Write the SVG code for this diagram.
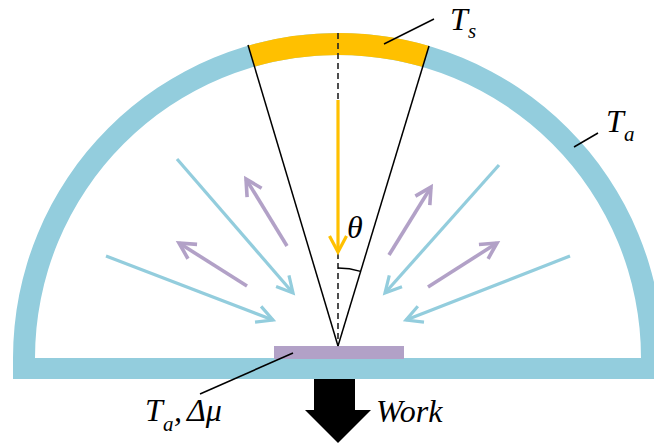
<svg xmlns="http://www.w3.org/2000/svg" width="654" height="443" viewBox="0 0 654 443">
<style>
.lbl{font-family:"Liberation Serif","DejaVu Serif",serif;font-style:italic;font-size:32px;fill:#000}
.sub{font-family:"Liberation Serif","DejaVu Serif",serif;font-style:italic;font-size:21px;fill:#000}
.lead{stroke:#000;stroke-width:1.5;fill:none}
.blue{stroke:#93CDDD;stroke-width:3.2;fill:none;marker-end:url(#mb)}
.purp{stroke:#B2A1C7;stroke-width:3.6;fill:none;marker-end:url(#mp)}
</style>
<defs>
<marker id="mb" markerUnits="userSpaceOnUse" viewBox="-20 -15 30 30" markerWidth="30" markerHeight="30" refX="0" refY="0" orient="auto" overflow="visible">
<path d="M-16,-8.5 L0,0 L-16,8.5" fill="none" stroke="#93CDDD" stroke-width="3.2"/>
</marker>
<marker id="mp" markerUnits="userSpaceOnUse" viewBox="-20 -15 30 30" markerWidth="30" markerHeight="30" refX="0" refY="0" orient="auto" overflow="visible">
<path d="M-16,-8.5 L0,0 L-16,8.5" fill="none" stroke="#B2A1C7" stroke-width="3.6"/>
</marker>
<marker id="my" markerUnits="userSpaceOnUse" viewBox="-20 -15 30 30" markerWidth="30" markerHeight="30" refX="0" refY="0" orient="auto" overflow="visible">
<path d="M-16,-8.5 L0,0 L-16,8.5" fill="none" stroke="#FFC000" stroke-width="3.2"/>
</marker>
<clipPath id="cone"><polygon points="338,346 234.5,0 443,0"/></clipPath>
</defs>
<g id="dome">
<path d="M13 358 A325 325 0 0 1 663 358 L641 358 A303 303 0 0 0 35 358 Z" fill="#93CDDD"/>
<rect x="13" y="358" width="650" height="21" fill="#93CDDD"/>
</g>
<g id="sun">
<path d="M205.3 73.4 A314 314 0 0 1 470.7 73.4" fill="none" stroke="#FFC000" stroke-width="22" clip-path="url(#cone)"/>
</g>
<g id="absorber">
<rect x="274" y="346" width="130" height="13" fill="#B2A1C7"/>
</g>
<g id="connectors">
<line x1="338" y1="33" x2="338" y2="346" stroke="#222" stroke-width="1.6" stroke-dasharray="6 4"/>
<line x1="338" y1="346" x2="248" y2="45" class="lead"/>
<line x1="338" y1="346" x2="429" y2="46" class="lead"/>
<path d="M338 268 A78 78 0 0 1 360.6 271.4" class="lead"/>
<line x1="338" y1="100" x2="338" y2="252" stroke="#FFC000" stroke-width="3.2" marker-end="url(#my)"/>
<line x1="177" y1="159" x2="293" y2="293" class="blue"/>
<line x1="106" y1="256" x2="273" y2="320" class="blue"/>
<line x1="499" y1="165" x2="385" y2="293" class="blue"/>
<line x1="570" y1="256" x2="406" y2="320" class="blue"/>
<line x1="287" y1="246" x2="246" y2="179" class="purp"/>
<line x1="247" y1="286" x2="179" y2="243" class="purp"/>
<line x1="389" y1="255" x2="431" y2="187" class="purp"/>
<line x1="428" y1="287" x2="497" y2="243" class="purp"/>
<line x1="384" y1="44" x2="434" y2="19" class="lead"/>
<line x1="574" y1="147" x2="598" y2="133" class="lead"/>
<line x1="293" y1="353" x2="200" y2="394" class="lead"/>
<polygon points="314,379 355,379 355,410 371,410 338,443 305,410 314,410" fill="#000"/>
</g>
<g id="labels">
<text class="lbl" x="450" y="30">T</text><text class="sub" x="468" y="38">s</text>
<text class="lbl" x="606" y="132">T</text><text class="sub" x="624" y="141">a</text>
<text class="lbl" x="347" y="238">θ</text>
<text class="lbl" x="145" y="421">T</text><text class="sub" x="163" y="431">a</text>
<text class="lbl" x="174" y="421">,</text>
<text class="lbl" x="187" y="421">Δμ</text>
<text class="lbl" x="376" y="422">Work</text>
</g>
</svg>
